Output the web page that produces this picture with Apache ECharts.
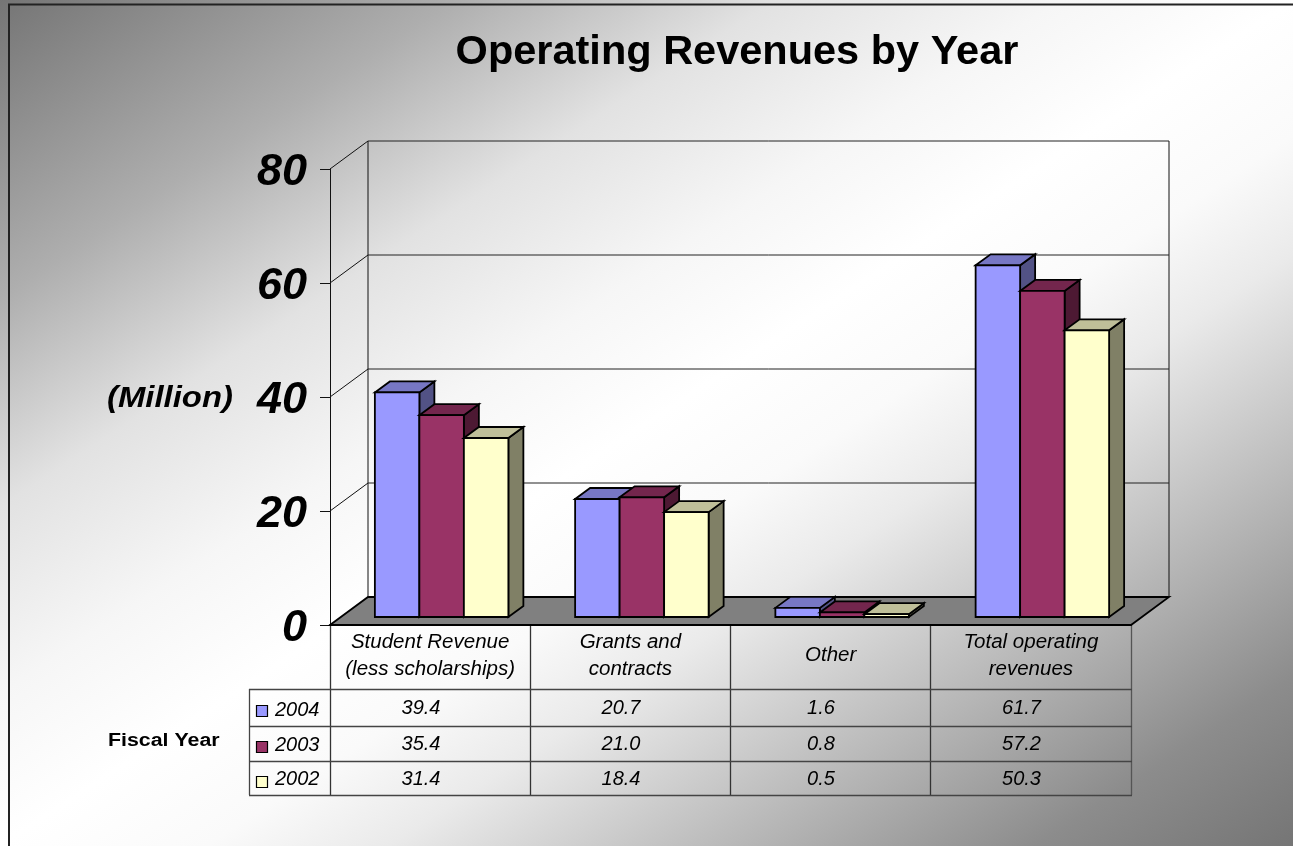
<!DOCTYPE html>
<html><head><meta charset="utf-8">
<style>html,body{margin:0;padding:0;background:#fff;overflow:hidden}#c{width:1293px;height:846px}</style>
<script src="https://cdn.jsdelivr.net/npm/echarts@6/dist/echarts.min.js"></script>
</head><body><div id="c"></div>
<script>
const titleText = 'Operating Revenues by Year';
const categories = ['Student Revenue\n(less scholarships)', 'Grants and\ncontracts', 'Other', 'Total operating\nrevenues'];
const seriesNames = ['2004', '2003', '2002'];
const values2004 = [39.4, 20.7, 1.6, 61.7];
const values2003 = [35.4, 21.0, 0.8, 57.2];
const values2002 = [31.4, 18.4, 0.5, 50.3];
const yTicks = [0, 20, 40, 60, 80];
const allValues = [values2004, values2003, values2002];
const faceColors = [
  {front:'#9999FF', top:'#7777C4', side:'#525285'},
  {front:'#993366', top:'#73264D', side:'#4D1933'},
  {front:'#FFFFCC', top:'#BFBF99', side:'#808066'}
];
const FONT = '"Liberation Sans", Arial, sans-serif';
const G = {left:330, top:169, width:801, bottom:221};
const wallDx = 38, wallDy = -28;
const barBase = {dx:11.5, dy:-8};
const barW = 44.5, depthX = 15, depthY = -11;

function poly(pts, fill, stroke, lw){
  return {type:'polygon', shape:{points:pts}, style:{fill:fill, stroke:stroke||'#000', lineWidth:lw===undefined?1.8:lw, lineJoin:'miter'}};
}
function line(x1,y1,x2,y2,color,lw){
  return {type:'line', shape:{x1,y1,x2,y2}, style:{stroke:color||'#333', lineWidth:lw||1, fill:null}};
}
function barSeries(sIdx){
  return {
    type:'custom', name:seriesNames[sIdx], coordinateSystem:'cartesian2d', clip:false, z:5+sIdx,
    data: categories.map((c,i)=>[i, allValues[sIdx][i]]),
    encode:{x:0,y:1},
    renderItem(params, api){
      const cat = api.value(0), v = api.value(1);
      const top = api.coord([cat, v]), base = api.coord([cat, 0]);
      const x0 = top[0] + barBase.dx + (sIdx-1.5)*barW, x1 = x0 + barW;
      const yT = top[1] + barBase.dy, yB = base[1] + barBase.dy;
      const col = faceColors[sIdx];
      return {type:'group', children:[
        poly([[x1,yT],[x1+depthX,yT+depthY],[x1+depthX,yB+depthY],[x1,yB]], col.side),
        poly([[x0,yT],[x0+depthX,yT+depthY],[x1+depthX,yT+depthY],[x1,yT]], col.top),
        poly([[x0,yT],[x1,yT],[x1,yB],[x0,yB]], col.front)
      ]};
    }
  };
}
const wallSeries = {
  type:'custom', name:'walls', coordinateSystem:'cartesian2d', clip:false, z:1, silent:true,
  data: yTicks.map(t=>[0,t]), encode:{y:1},
  renderItem(params, api){
    const t = api.value(1);
    const L = api.coord([0,t])[1];
    const xL = G.left, xR = G.left+G.width;
    const ch = [];
    if (t===0) {
      ch.push(poly([[xL,L],[xL+wallDx,L+wallDy],[xR+wallDx,L+wallDy],[xR,L]], '#808080', '#000', 1.8));
      const topY = api.coord([0,80])[1];
      ch.push(line(xL+wallDx,L+wallDy,xL+wallDx,topY+wallDy,'#111',1));
      ch.push(line(xR+wallDx,L+wallDy,xR+wallDx,topY+wallDy,'#111',1));
    } else {
      ch.push(line(xL,L,xL+wallDx,L+wallDy,'#111',1));
      ch.push(line(xL+wallDx,L+wallDy,xR+wallDx,L+wallDy,'#222',1));
    }
    ch.push({type:'text', x:xL-23, y:L+4, style:{text:String(t), fill:'#000',
      font:'italic bold 45px '+FONT, textAlign:'right', textVerticalAlign:'middle'}});
    return {type:'group', children:ch};
  }
};

/* data table under the chart */
const colX = [330, 530, 730, 930, 1131];
const tableLeft = 249, tableHead = 625, rowY = [689, 726, 761, 795];
const nameY = [710, 745, 779];
const valueY = [708, 744, 779];
const swatchY = [705, 741, 776];
const valueShift = -9;
const graphics = [];
graphics.push({type:'rect', silent:true, z:-10, shape:{x:0,y:0,width:1293,height:846},
  style:{fill:new echarts.graphic.LinearGradient(259,-170,1034,1016,[
    {offset:0,color:'#757575'},{offset:0.176,color:'#aeaeae'},{offset:0.3,color:'#e2e2e2'},{offset:0.41,color:'#f6f6f6'},
    {offset:0.5,color:'#ffffff'},{offset:0.58,color:'#fafafa'},{offset:0.65,color:'#eaeaea'},
    {offset:0.9,color:'#8c8c8c'},{offset:1,color:'#757575'}],true)}});
graphics.push({type:'rect', silent:true, z:-9, shape:{x:9,y:4.5,width:1400,height:1000},
  style:{fill:'none',stroke:'#222',lineWidth:2}});
colX.forEach((x,i)=>graphics.push(line(x+0.5,tableHead,x+0.5,rowY[3],i===4?'#555':'#333',1.3)));
graphics.push(line(tableLeft+0.5,rowY[0],tableLeft+0.5,rowY[3],'#444',1.3));
rowY.forEach(y=>graphics.push(line(tableLeft,y+0.5,colX[4]+1,y+0.5,'#444',1.3)));
seriesNames.forEach((name,s)=>{
  graphics.push({type:'rect', shape:{x:256.5,y:swatchY[s]+0.5,width:11,height:11},
    style:{fill:faceColors[s].front,stroke:'#000',lineWidth:1.2}});
  graphics.push({type:'text', x:275, y:nameY[s], style:{text:name, fill:'#000',
    font:'italic 20px '+FONT, textAlign:'left', textVerticalAlign:'middle'}});
  allValues[s].forEach((v,c)=>{
    graphics.push({type:'text', x:(colX[c]+colX[c+1])/2+valueShift, y:valueY[s], style:{text:v.toFixed(1), fill:'#000',
      font:'italic 20px '+FONT, textAlign:'center', textVerticalAlign:'middle'}});
  });
});
graphics.push({type:'text', x:107, y:399, scaleX:1.095, style:{text:'(Million)', fill:'#000',
  font:'italic bold 30px '+FONT, textAlign:'left', textVerticalAlign:'middle'}});
graphics.push({type:'text', x:108, y:741, scaleX:1.22, style:{text:'Fiscal Year', fill:'#000',
  font:'bold 17.5px '+FONT, textAlign:'left', textVerticalAlign:'middle'}});

const chart = echarts.init(document.getElementById('c'), null, {renderer:'canvas', width:1293, height:846});
chart.setOption({
  animation:false,
  title:{text:titleText, left:732, top:27, textAlign:'center',
    textStyle:{fontFamily:FONT, fontWeight:'bold', fontSize:41.5, color:'#000'}},
  grid:{left:G.left, top:G.top, width:G.width, bottom:G.bottom, containLabel:false},
  xAxis:{type:'category', boundaryGap:true,
    data:categories.map(c=>c.indexOf('\n')<0 ? {value:c, textStyle:{lineHeight:54}} : c),
    axisLine:{show:true,lineStyle:{color:'#111',width:1.5}}, axisTick:{show:false}, splitLine:{show:false},
    axisLabel:{interval:0, margin:3.5, fontFamily:FONT, fontStyle:'italic', fontSize:20.5, lineHeight:27, color:'#000', hideOverlap:false}},
  yAxis:{type:'value', min:0, max:80, interval:20,
    axisLine:{show:true,lineStyle:{color:'#111',width:1}},
    axisTick:{show:true,length:10,lineStyle:{color:'#111',width:1}}, splitLine:{show:false},
    axisLabel:{show:false}},
  tooltip:{show:false},
  legend:{show:false},
  graphic:{elements:graphics},
  series:[wallSeries, barSeries(0), barSeries(1), barSeries(2)]
});
</script></body></html>
